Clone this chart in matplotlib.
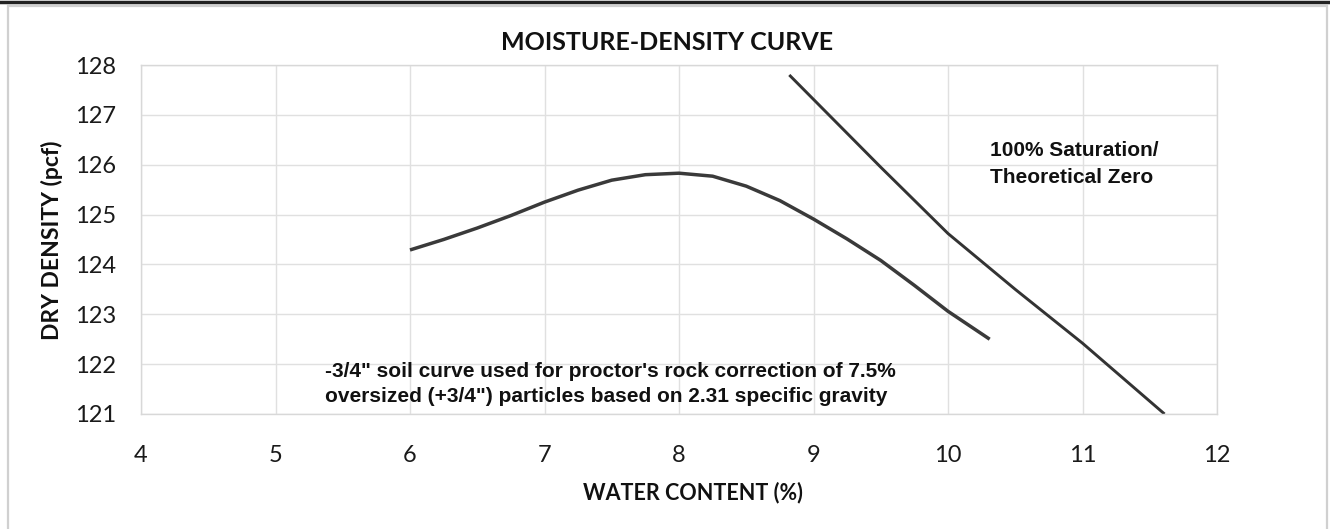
import matplotlib
matplotlib.use("Agg")
import matplotlib.pyplot as plt
from matplotlib.patches import Rectangle
from matplotlib.lines import Line2D

# values
water_content = [6.0, 6.25, 6.5, 6.75, 7.0, 7.25, 7.5, 7.75, 8.0, 8.25, 8.5,
                 8.75, 9.0, 9.25, 9.5, 9.75, 10.0, 10.31]
dry_density = [124.29, 124.50, 124.73, 124.98, 125.25, 125.49, 125.69, 125.80,
               125.83, 125.77, 125.57, 125.28, 124.91, 124.51, 124.08, 123.58,
               123.06, 122.50]

zav_water = [8.82, 9.5, 10.0, 10.5, 11.0, 11.61]
zav_density = [127.80, 125.95, 124.62, 123.50, 122.42, 121.00]

x_ticks = [4, 5, 6, 7, 8, 9, 10, 11, 12]
y_ticks = [121, 122, 123, 124, 125, 126, 127, 128]

title = "MOISTURE-DENSITY CURVE"
x_label = "WATER CONTENT (%)"
y_label = "DRY DENSITY (pcf)"
zav_note = "100% Saturation/\nTheoretical Zero"
rock_note = ("-3/4\" soil curve used for proctor's rock correction of 7.5%\n"
             "oversized (+3/4\") particles based on 2.31 specific gravity")

W, H = 1330, 529
fig = plt.figure(figsize=(W / 100, H / 100), dpi=100)
fig.patch.set_facecolor("white")

# plot area, pixel box 141..1217 x 65..414
ax = fig.add_axes([141 / W, 1 - 414 / H, (1217 - 141) / W, (414 - 65) / H])
ax.set_xlim(4, 12)
ax.set_ylim(121, 128)
ax.set_xticks(x_ticks)
ax.set_yticks(y_ticks)
ax.grid(True, color="#e0e0e0", lw=1.0)
ax.set_axisbelow(True)
for s in ax.spines.values():
    s.set_color("#d8d8d8")
    s.set_linewidth(1.0)
ax.tick_params(length=0, labelsize=17, colors="#1a1a1a")
ax.tick_params(axis="x", pad=22)
ax.tick_params(axis="y", pad=18)
for lab in ax.get_xticklabels() + ax.get_yticklabels():
    lab.set_family(["Lato", "DejaVu Sans"])

ax.plot(water_content, dry_density, color="#3a3a3a", lw=2.5,
        solid_capstyle="butt", solid_joinstyle="round")
ax.plot(zav_water, zav_density, color="#333333", lw=2.1,
        solid_capstyle="butt", solid_joinstyle="round")

ax.text(10.31, 126.02, zav_note, ha="left", va="center", fontsize=15,
        fontweight="bold", family=["Liberation Sans", "DejaVu Sans"],
        linespacing=1.55, color="#111111")
ax.text(5.37, 121.6, rock_note, ha="left", va="center", fontsize=15,
        fontweight="bold", family=["Liberation Sans", "DejaVu Sans"],
        linespacing=1.35, color="#111111")

fig.text(667 / W, 1 - 42 / H, title, ha="center", va="center", fontsize=18,
         fontweight="bold", family=["Lato", "DejaVu Sans"], color="#111111")
fig.text(693 / W, 1 - 493 / H, x_label, ha="center", va="center",
         fontsize=15.5, fontweight="bold", family=["Lato", "DejaVu Sans"],
         color="#111111")
fig.text(52 / W, 1 - 240 / H, y_label, ha="center", va="center",
         rotation=90, fontsize=16.5, fontweight="bold",
         family=["Lato", "DejaVu Sans"], color="#111111")

# chart frame and the cut-off table rule at the top of the scan
fig.patches.append(Rectangle((8 / W, -0.02), (1327 - 8) / W, 1.02 - 6 / H,
                             transform=fig.transFigure, fill=False,
                             edgecolor="#d0d0d0", lw=1.6))
fig.lines.append(Line2D([0, 1], [1 - 1.5 / H, 1 - 1.5 / H],
                        transform=fig.transFigure, color="#222222", lw=2.5))

fig.savefig("out.png", dpi=100)
